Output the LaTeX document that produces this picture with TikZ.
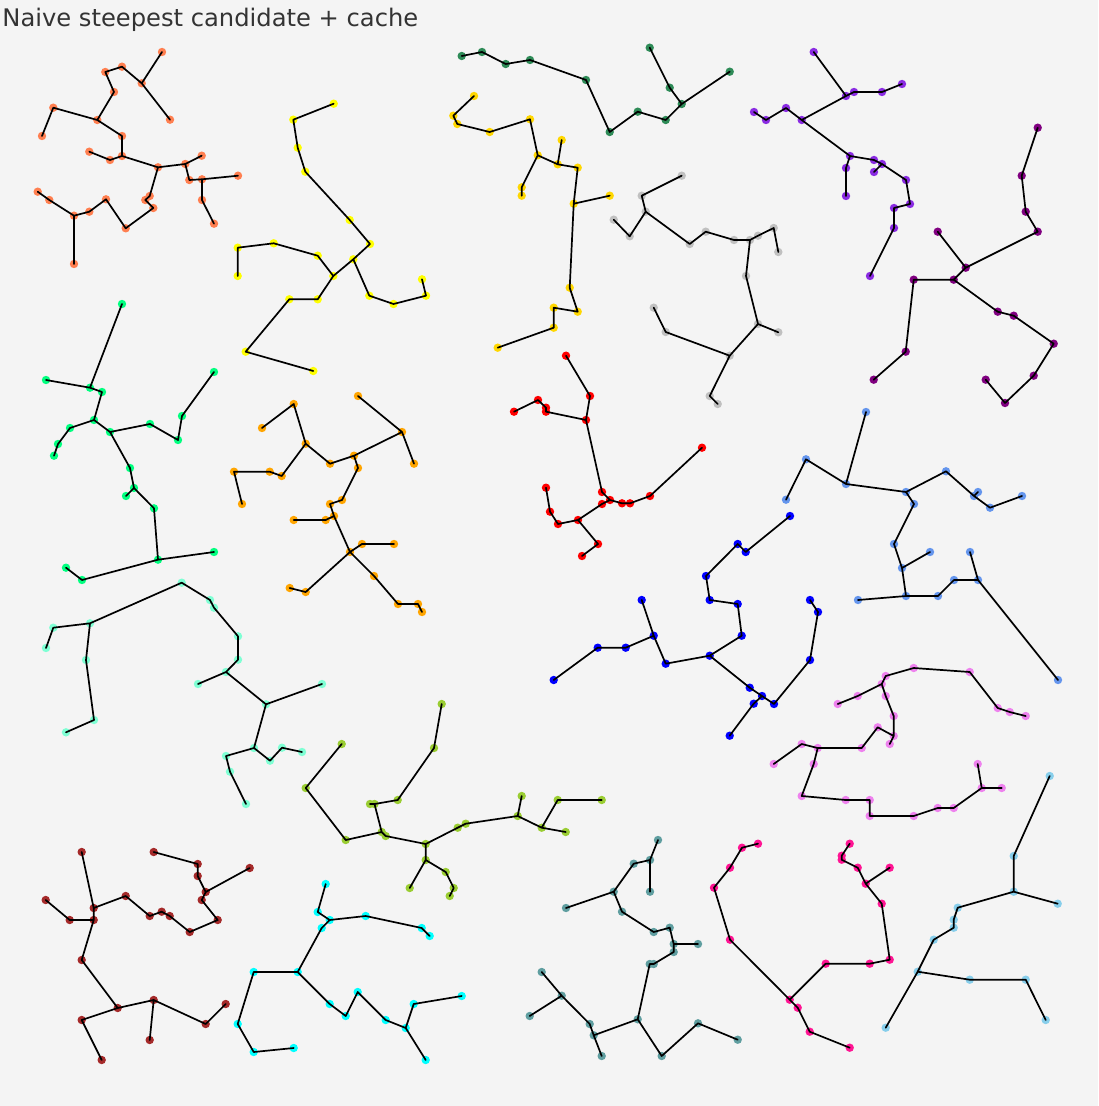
\documentclass[tikz,border=0pt]{standalone}
\usepackage{fontspec}
\newfontfamily\titlefont{DejaVu Sans}
\definecolor{bgGray}{HTML}{F4F4F4}
\definecolor{titleGray}{HTML}{333333}
\definecolor{dotCoral}{HTML}{FF7F50}
\definecolor{dotYellow}{HTML}{FFFF00}
\definecolor{dotGold}{HTML}{FFD700}
\definecolor{dotSeaGreen}{HTML}{2E8B57}
\definecolor{dotSilver}{HTML}{C0C0C0}
\definecolor{dotBlueViolet}{HTML}{8A2BE2}
\definecolor{dotPurple}{HTML}{800080}
\definecolor{dotSpring}{HTML}{00FF7F}
\definecolor{dotOrange}{HTML}{FFA500}
\definecolor{dotRed}{HTML}{FF0000}
\definecolor{dotCornflower}{HTML}{6495ED}
\definecolor{dotBlue}{HTML}{0000FF}
\definecolor{dotAqua}{HTML}{7FFFD4}
\definecolor{dotYellowGreen}{HTML}{9ACD32}
\definecolor{dotViolet}{HTML}{EE82EE}
\definecolor{dotBrown}{HTML}{A52A2A}
\definecolor{dotCyan}{HTML}{00FFFF}
\definecolor{dotCadet}{HTML}{5F9EA0}
\definecolor{dotDeepPink}{HTML}{FF1493}
\definecolor{dotSky}{HTML}{87CEEB}
\tikzset{
  link/.style={draw=black, line width=0.85pt, line cap=round, line join=round},
  vertex/.style={fill=#1}
}
\newcommand{\dotR}{2.1pt}

\begin{document}
\begin{tikzpicture}[x=0.5pt, y=-0.5pt]
  % canvas
  \fill[bgGray] (0,0) rectangle (1098,1106);
  \node[anchor=base west, inner sep=0pt, font=\titlefont\fontsize{12.1}{14}\selectfont, text=titleGray] (title) at (2,27) {Naive steepest candidate + cache};

  % coral tree
  \foreach \n/\x/\y in {1/162/52, 2/141.7/83.3, 3/122/66.7, 4/105.3/72, 5/114/92, 6/170/119.7, 7/97.3/120, 8/53.3/107.7, 9/42/136, 10/122/136, 11/122/156, 12/89.3/151.7, 13/110/160, 14/158/167.3, 15/185.3/164, 16/201.7/155.7, 17/189.3/180, 18/202/179.3, 19/238/175.7, 20/202/200, 21/214/223.7, 22/149.7/196, 23/145.3/200, 24/153.3/208, 25/125.7/228.3, 26/106/199.3, 27/89.3/211.7, 28/74/215.7, 29/49.3/200, 30/37.7/191.7, 31/74/264}
    {\coordinate (co\n) at (\x,\y); \fill[vertex=dotCoral] (co\n) circle (\dotR);}
  \draw[link] (co1) -- (co2) -- (co3) -- (co4) -- (co5) -- (co7) -- (co8) -- (co9)
    (co2) -- (co6)
    (co7) -- (co10) -- (co11) -- (co13) -- (co12)
    (co11) -- (co14) -- (co15) -- (co16)
    (co15) -- (co17) -- (co18) -- (co19)
    (co18) -- (co20) -- (co21)
    (co14) -- (co22) -- (co23) -- (co24) -- (co25) -- (co26) -- (co27) -- (co28) -- (co29) -- (co30)
    (co28) -- (co31);

  % yellow tree
  \foreach \n/\x/\y in {1/333.7/103.7, 2/293.3/119.7, 3/297.7/147.7, 4/305.3/171.7, 5/349.7/220, 6/370/244, 7/353.3/259.3, 8/333.3/276, 9/317.7/255.7, 10/273.7/243.3, 11/237.7/247.7, 12/237.7/276, 13/369.3/295.7, 14/393.5/304, 15/426/295.7, 16/422/279.3, 17/317.7/299.3, 18/289.3/299.3, 19/245.7/351.7, 20/313.3/371}
    {\coordinate (ye\n) at (\x,\y); \fill[vertex=dotYellow] (ye\n) circle (\dotR);}
  \draw[link] (ye1) -- (ye2) -- (ye3) -- (ye4) -- (ye5) -- (ye6) -- (ye7) -- (ye8) -- (ye9) -- (ye10) -- (ye11) -- (ye12)
    (ye7) -- (ye13) -- (ye14) -- (ye15) -- (ye16)
    (ye8) -- (ye17) -- (ye18) -- (ye19) -- (ye20);

  % gold tree
  \foreach \n/\x/\y in {1/474/96, 2/453.3/115.7, 3/457.3/124, 4/489.7/132, 5/530/119.3, 6/537.7/155.3, 7/521.7/187.3, 8/521.7/195.7, 9/557.7/164.3, 10/561.7/140, 11/577.7/167.7, 12/573.7/203.7, 13/609.7/195.7, 14/569.7/287.7, 15/577.7/311.7, 16/553.7/307.7, 17/553.7/327.7, 18/497.7/347.7}
    {\coordinate (go\n) at (\x,\y); \fill[vertex=dotGold] (go\n) circle (\dotR);}
  \draw[link] (go1) -- (go2) -- (go3) -- (go4) -- (go5) -- (go6) -- (go7) -- (go8)
    (go6) -- (go9) -- (go10)
    (go9) -- (go11) -- (go12) -- (go13)
    (go12) -- (go14) -- (go15) -- (go16) -- (go17) -- (go18);

  % seagreen tree
  \foreach \n/\x/\y in {1/461.7/56, 2/482/52, 3/505.7/64, 4/530/60, 5/586/80, 6/609.7/132, 7/637.7/111.7, 8/665.7/120, 9/681.7/104, 10/669.7/87.7, 11/649.7/47.7, 12/729.7/71.7}
    {\coordinate (sg\n) at (\x,\y); \fill[vertex=dotSeaGreen] (sg\n) circle (\dotR);}
  \draw[link] (sg1) -- (sg2) -- (sg3) -- (sg4) -- (sg5) -- (sg6) -- (sg7) -- (sg8) -- (sg9) -- (sg10) -- (sg11)
    (sg9) -- (sg12);

  % silver tree
  \foreach \n/\x/\y in {1/681.7/175.7, 2/641.7/195.7, 3/645.7/211.7, 4/629.7/236.3, 5/613.7/219.7, 6/689.7/244, 7/705.7/231.7, 8/734/240, 9/750/240, 10/758/235.7, 11/773.7/228, 12/778.3/252, 13/746/276, 14/758/324, 15/778.3/332.3, 16/729.7/355.7, 17/709.7/396, 18/717.7/404, 19/665.7/332, 20/653.7/307.7}
    {\coordinate (sv\n) at (\x,\y); \fill[vertex=dotSilver] (sv\n) circle (\dotR);}
  \draw[link] (sv1) -- (sv2) -- (sv3) -- (sv4) -- (sv5)
    (sv3) -- (sv6) -- (sv7) -- (sv8) -- (sv9) -- (sv10) -- (sv11) -- (sv12)
    (sv9) -- (sv13) -- (sv14) -- (sv15)
    (sv14) -- (sv16) -- (sv17) -- (sv18)
    (sv16) -- (sv19) -- (sv20);

  % blueviolet tree
  \foreach \n/\x/\y in {1/813.7/52, 2/846/96, 3/854/92, 4/882/92, 5/902/84, 6/801.7/120, 7/786/108, 8/766/120, 9/754/112, 10/850/156, 11/846/168, 12/846/196, 13/874/160, 14/882/164, 15/874/172, 16/906/180, 17/910/204, 18/894/208, 19/894/228, 20/870/276}
    {\coordinate (bv\n) at (\x,\y); \fill[vertex=dotBlueViolet] (bv\n) circle (\dotR);}
  \draw[link] (bv1) -- (bv2) -- (bv3) -- (bv4) -- (bv5)
    (bv2) -- (bv6) -- (bv7) -- (bv8) -- (bv9)
    (bv6) -- (bv10) -- (bv11) -- (bv12)
    (bv10) -- (bv13) -- (bv14) -- (bv15)
    (bv14) -- (bv16) -- (bv17) -- (bv18) -- (bv19) -- (bv20);

  % purple tree
  \foreach \n/\x/\y in {1/1037.7/127.7, 2/1021.7/175.7, 3/1025.7/211.7, 4/1037.7/231.7, 5/965.7/267.7, 6/937.7/231.7, 7/953.7/279.7, 8/913.7/279.7, 9/905.7/351.7, 10/873.7/379.7, 11/997.7/311.7, 12/1013.7/315.7, 13/1053.7/343.7, 14/1033.7/375.7, 15/1005/403, 16/985.7/379.7}
    {\coordinate (pu\n) at (\x,\y); \fill[vertex=dotPurple] (pu\n) circle (\dotR);}
  \draw[link] (pu1) -- (pu2) -- (pu3) -- (pu4) -- (pu5) -- (pu6)
    (pu5) -- (pu7) -- (pu8) -- (pu9) -- (pu10)
    (pu7) -- (pu11) -- (pu12) -- (pu13) -- (pu14) -- (pu15) -- (pu16);

  % springgreen tree
  \foreach \n/\x/\y in {1/122/304, 2/90/387.7, 3/46/380, 4/102/392, 5/94/420, 6/70/428, 7/58/444, 8/54/455.7, 9/110/432, 10/150/424, 11/178/440, 12/182/416, 13/214/372, 14/130/468, 15/134/488, 16/126/496, 17/154/508.3, 18/158/559.7, 19/214/552, 20/82/580, 21/66/567.7}
    {\coordinate (sp\n) at (\x,\y); \fill[vertex=dotSpring] (sp\n) circle (\dotR);}
  \draw[link] (sp1) -- (sp2) -- (sp3)
    (sp2) -- (sp4) -- (sp5) -- (sp6) -- (sp7) -- (sp8)
    (sp5) -- (sp9) -- (sp10) -- (sp11) -- (sp12) -- (sp13)
    (sp9) -- (sp14) -- (sp15) -- (sp16)
    (sp15) -- (sp17) -- (sp18) -- (sp19)
    (sp18) -- (sp20) -- (sp21);

  % orange tree
  \foreach \n/\x/\y in {1/358/396, 2/402/432, 3/414/463.7, 4/354/455.7, 5/330/463.7, 6/305.7/443.7, 7/293.7/404, 8/262/428, 9/281.7/476, 10/269.7/471.7, 11/234/471.7, 12/242/504, 13/358/468, 14/342/500, 15/330/504, 16/334/516, 17/325.7/520, 18/293.7/520, 19/350/552, 20/362/544, 21/394/544, 22/305.7/592, 23/289.7/588, 24/374/576, 25/398/604, 26/418/604, 27/422/612}
    {\coordinate (or\n) at (\x,\y); \fill[vertex=dotOrange] (or\n) circle (\dotR);}
  \draw[link] (or1) -- (or2) -- (or3)
    (or2) -- (or4) -- (or5) -- (or6) -- (or7) -- (or8)
    (or6) -- (or9) -- (or10) -- (or11) -- (or12)
    (or4) -- (or13) -- (or14) -- (or15) -- (or16) -- (or19)
    (or16) -- (or17) -- (or18)
    (or19) -- (or20) -- (or21)
    (or19) -- (or22) -- (or23)
    (or19) -- (or24) -- (or25) -- (or26) -- (or27);

  % red tree
  \foreach \n/\x/\y in {1/566/355.7, 2/590/396, 3/586/420, 4/546/411.7, 5/546/407.7, 6/538/400, 7/514/411.7, 8/602/492, 9/610/500, 10/622/503.3, 11/630/503.3, 12/650/496, 13/702/447.7, 14/602/504, 15/578/520, 16/558/524, 17/550/511.7, 18/546/487.7, 19/598/544, 20/582/556}
    {\coordinate (rd\n) at (\x,\y); \fill[vertex=dotRed] (rd\n) circle (\dotR);}
  \draw[link] (rd1) -- (rd2) -- (rd3) -- (rd4) -- (rd5) -- (rd6) -- (rd7)
    (rd3) -- (rd8) -- (rd9) -- (rd10) -- (rd11) -- (rd12) -- (rd13)
    (rd9) -- (rd14) -- (rd15) -- (rd16) -- (rd17) -- (rd18)
    (rd15) -- (rd19) -- (rd20);

  % cornflower tree
  \foreach \n/\x/\y in {1/866/412, 2/846/484, 3/806/459.3, 4/786/499.7, 5/906/492, 6/946/471.3, 7/974/496, 8/978/492, 9/990/507.7, 10/1022/496, 11/914/504, 12/894/544, 13/902/568, 14/930/552, 15/906/596, 16/858/600, 17/938/596, 18/954/580, 19/978/580, 20/970/552, 21/1058/680}
    {\coordinate (cf\n) at (\x,\y); \fill[vertex=dotCornflower] (cf\n) circle (\dotR);}
  \draw[link] (cf1) -- (cf2) -- (cf3) -- (cf4)
    (cf2) -- (cf5) -- (cf6) -- (cf7) -- (cf9) -- (cf10)
    (cf7) -- (cf8)
    (cf5) -- (cf11) -- (cf12) -- (cf13) -- (cf14)
    (cf13) -- (cf15) -- (cf16)
    (cf15) -- (cf17) -- (cf18) -- (cf19) -- (cf20)
    (cf19) -- (cf21);

  % blue tree
  \foreach \n/\x/\y in {1/790/516, 2/745.7/552, 3/737.7/544, 4/706/576, 5/709.7/600, 6/737.7/604, 7/741.7/635.7, 8/709.7/655.7, 9/665.7/663.7, 10/653.7/635.7, 11/641.7/600, 12/625.7/647.7, 13/597.7/647.7, 14/553.7/680, 15/749.7/687.7, 16/762/696, 17/774/704, 18/810/660, 19/818/612, 20/810/600, 21/753.7/703.7, 22/729.7/735.7}
    {\coordinate (bl\n) at (\x,\y); \fill[vertex=dotBlue] (bl\n) circle (\dotR);}
  \draw[link] (bl1) -- (bl2) -- (bl3) -- (bl4) -- (bl5) -- (bl6) -- (bl7) -- (bl8) -- (bl9) -- (bl10) -- (bl11)
    (bl10) -- (bl12) -- (bl13) -- (bl14)
    (bl8) -- (bl15) -- (bl16) -- (bl17) -- (bl18) -- (bl19) -- (bl20)
    (bl16) -- (bl21) -- (bl22);

  % aquamarine tree
  \foreach \n/\x/\y in {1/181.7/582.7, 2/90/623.3, 3/53.3/627.7, 4/46/648, 5/86/660, 6/94/720, 7/66/732.3, 8/210/600, 9/214/607.7, 10/238/636.3, 11/238/659.7, 12/226/672, 13/198/684, 14/266/704.3, 15/322/684, 16/254/748, 17/226/756, 18/230/771.7, 19/246/804, 20/270/760.7, 21/282/747.7, 22/302/752}
    {\coordinate (aq\n) at (\x,\y); \fill[vertex=dotAqua] (aq\n) circle (\dotR);}
  \draw[link] (aq1) -- (aq2) -- (aq3) -- (aq4)
    (aq2) -- (aq5) -- (aq6) -- (aq7)
    (aq1) -- (aq8) -- (aq9) -- (aq10) -- (aq11) -- (aq12) -- (aq13)
    (aq12) -- (aq14) -- (aq15)
    (aq14) -- (aq16) -- (aq17) -- (aq18) -- (aq19)
    (aq16) -- (aq20) -- (aq21) -- (aq22);

  % yellowgreen tree
  \foreach \n/\x/\y in {1/441.7/704, 2/434/748, 3/397.7/800, 4/370/804, 5/381.7/832, 6/341.7/744, 7/305.7/788, 8/345.7/840, 9/385.7/836, 10/425.7/844, 11/425.7/860, 12/409.7/888, 13/445.7/872, 14/453.7/888, 15/449.7/896, 16/457.7/827.7, 17/465.7/823.7, 18/517.7/816, 19/521.7/796, 20/541.7/827.7, 21/565.7/832, 22/557.7/800, 23/601.7/800, 24/374.5/804}
    {\coordinate (yg\n) at (\x,\y); \fill[vertex=dotYellowGreen] (yg\n) circle (\dotR);}
  \draw[link] (yg1) -- (yg2) -- (yg3) -- (yg24) -- (yg4) (yg24) -- (yg5)
    (yg6) -- (yg7) -- (yg8) -- (yg5) -- (yg9) -- (yg10) -- (yg11) -- (yg12)
    (yg11) -- (yg13) -- (yg14) -- (yg15)
    (yg10) -- (yg16) -- (yg17) -- (yg18) -- (yg19)
    (yg18) -- (yg20) -- (yg21)
    (yg20) -- (yg22) -- (yg23);

  % violet tree
  \foreach \n/\x/\y in {1/1025.7/716, 2/1009.7/712, 3/997.7/708, 4/969.7/672, 5/913.7/668, 6/885.7/676, 7/881.7/684, 8/857.7/696, 9/837.7/704, 10/885.7/696, 11/893.7/716, 12/893.7/736, 13/877.7/727.3, 14/861.7/748, 15/817.7/748, 16/889.7/744, 17/801.7/744, 18/773.7/764, 19/813.7/764, 20/801.7/796, 21/845.7/800, 22/869.7/800, 23/869.7/816, 24/913.7/816, 25/937.7/808, 26/953.7/808, 27/981.7/788, 28/977.7/764, 29/1001.7/788}
    {\coordinate (vi\n) at (\x,\y); \fill[vertex=dotViolet] (vi\n) circle (\dotR);}
  \draw[link] (vi1) -- (vi2) -- (vi3) -- (vi4) -- (vi5) -- (vi6) -- (vi7) -- (vi8) -- (vi9)
    (vi7) -- (vi10) -- (vi11) -- (vi12) -- (vi13) -- (vi14) -- (vi15) -- (vi17) -- (vi18)
    (vi12) -- (vi16)
    (vi15) -- (vi19) -- (vi20) -- (vi21) -- (vi22) -- (vi23) -- (vi24) -- (vi25) -- (vi26) -- (vi27) -- (vi28)
    (vi27) -- (vi29);

  % brown tree
  \foreach \n/\x/\y in {1/81.7/852, 2/93.7/908, 3/125.7/896, 4/149.7/916, 5/161.7/911.7, 6/169.7/916, 7/189.7/932, 8/217.7/920, 9/201.7/900, 10/205.7/892, 11/197.7/876, 12/197.7/864, 13/153.7/852, 14/249.7/868, 15/93.7/920, 16/69.7/920, 17/45.7/900, 18/81.7/960, 19/117.7/1008, 20/153.7/1000, 21/149.7/1040, 22/205.7/1024, 23/225.7/1004, 24/81.7/1020, 25/101.7/1060}
    {\coordinate (br\n) at (\x,\y); \fill[vertex=dotBrown] (br\n) circle (\dotR);}
  \draw[link] (br1) -- (br2) -- (br3) -- (br4) -- (br5) -- (br6) -- (br7) -- (br8) -- (br9) -- (br10) -- (br11) -- (br12) -- (br13)
    (br10) -- (br14)
    (br2) -- (br15) -- (br16) -- (br17)
    (br15) -- (br18) -- (br19) -- (br20) -- (br21)
    (br20) -- (br22) -- (br23)
    (br19) -- (br24) -- (br25);

  % cyan tree
  \foreach \n/\x/\y in {1/325.7/884, 2/317.7/912, 3/329.7/920, 4/365.7/916, 5/421.7/928, 6/429.7/936, 7/321.7/928, 8/297.7/972, 9/253.7/972, 10/237.7/1024, 11/253.7/1052, 12/293.7/1048, 13/329.7/1004, 14/345.7/1016, 15/357.7/992, 16/385.7/1020, 17/405.7/1028, 18/413.7/1004, 19/461.7/996, 20/425.7/1060}
    {\coordinate (cy\n) at (\x,\y); \fill[vertex=dotCyan] (cy\n) circle (\dotR);}
  \draw[link] (cy1) -- (cy2) -- (cy3) -- (cy4) -- (cy5) -- (cy6)
    (cy3) -- (cy7) -- (cy8) -- (cy9) -- (cy10) -- (cy11) -- (cy12)
    (cy8) -- (cy13) -- (cy14) -- (cy15) -- (cy16) -- (cy17) -- (cy18) -- (cy19)
    (cy17) -- (cy20);

  % cadetblue tree
  \foreach \n/\x/\y in {1/658/840, 2/650/860, 3/633.7/863.7, 4/650/891.7, 5/613.7/891.7, 6/566/908, 7/622/911.7, 8/653.7/932, 9/669.7/927.7, 10/673.7/944, 11/698/944, 12/673.7/952, 13/653.7/964, 14/649.7/964, 15/637.7/1019.3, 16/593.7/1035.3, 17/589.7/1024, 18/561.7/995.7, 19/541.7/972, 20/529.7/1016, 21/601.7/1056, 22/661.7/1056, 23/698/1023.3, 24/737.7/1039.7}
    {\coordinate (cb\n) at (\x,\y); \fill[vertex=dotCadet] (cb\n) circle (\dotR);}
  \draw[link] (cb1) -- (cb2) -- (cb3) -- (cb5) -- (cb6)
    (cb2) -- (cb4)
    (cb5) -- (cb7) -- (cb8) -- (cb9) -- (cb10) -- (cb12) -- (cb13) -- (cb14) -- (cb15) -- (cb16) -- (cb17) -- (cb18) -- (cb19)
    (cb10) -- (cb11)
    (cb18) -- (cb20)
    (cb16) -- (cb21)
    (cb15) -- (cb22) -- (cb23) -- (cb24);

  % deeppink tree
  \foreach \n/\x/\y in {1/758/843.7, 2/742/847.7, 3/730/867.7, 4/714/887.7, 5/730/939.7, 6/789.7/999.7, 7/797.7/1007.7, 8/809.7/1031.7, 9/849.7/1047.7, 10/825.7/963.7, 11/869.7/963.7, 12/889.7/959.7, 13/881.7/903.7, 14/865.7/883.7, 15/889.7/867.7, 16/857.7/867.7, 17/841.7/859.7, 18/841.7/855.7, 19/849.7/843.7}
    {\coordinate (dp\n) at (\x,\y); \fill[vertex=dotDeepPink] (dp\n) circle (\dotR);}
  \draw[link] (dp1) -- (dp2) -- (dp3) -- (dp4) -- (dp5) -- (dp6) -- (dp7) -- (dp8) -- (dp9)
    (dp6) -- (dp10) -- (dp11) -- (dp12) -- (dp13) -- (dp14) -- (dp15)
    (dp14) -- (dp16) -- (dp17) -- (dp18) -- (dp19);

  % skyblue tree
  \foreach \n/\x/\y in {1/1049.7/776, 2/1013.7/856, 3/1013.7/891.7, 4/1057.7/903.7, 5/957.7/907.7, 6/953.7/919.7, 7/953.7/927.7, 8/933.7/939.7, 9/917.7/971.7, 10/885.7/1027.7, 11/969.7/979.7, 12/1025.7/979.7, 13/1045.7/1020}
    {\coordinate (sk\n) at (\x,\y); \fill[vertex=dotSky] (sk\n) circle (\dotR);}
  \draw[link] (sk1) -- (sk2) -- (sk3) -- (sk4)
    (sk3) -- (sk5) -- (sk6) -- (sk7) -- (sk8) -- (sk9) -- (sk10)
    (sk9) -- (sk11) -- (sk12) -- (sk13);
\end{tikzpicture}
\end{document}
